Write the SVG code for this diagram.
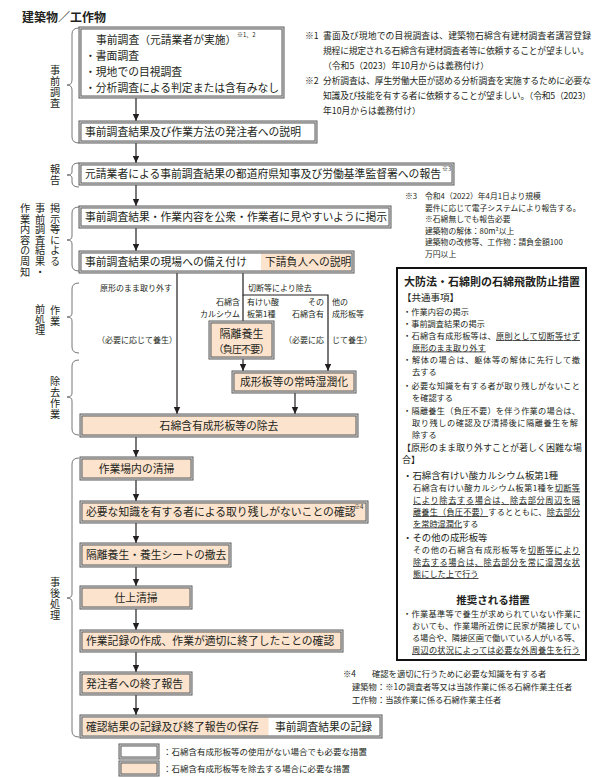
<svg xmlns="http://www.w3.org/2000/svg" width="596" height="778" viewBox="0 0 596 778">
<style>
text{font-family:"Noto Sans CJK JP","Noto Sans",sans-serif;fill:#231f20}
.bo{fill:none;stroke:#5a5a5a;stroke-width:3}
.bi{fill:none;stroke:#dcdcdc;stroke-width:1}
.w{fill:#fff}
.p{fill:#fce3cd}
.t{font-size:10.8px}
.s{font-size:8px}
.sup{font-size:6px}
.fn{font-size:8.8px}
.f3{font-size:7.8px}
.rb{font-size:8.2px}
.side{font-size:10.2px;writing-mode:vertical-rl;letter-spacing:0.4px}
.br{fill:none;stroke:#666;stroke-width:0.9}
.ln{fill:none;stroke:#231f20;stroke-width:1.2}
</style>
<defs>
<marker id="ah" markerWidth="8" markerHeight="8" refX="7" refY="4" orient="auto" markerUnits="userSpaceOnUse">
<path d="M0,0.8 L7,4 L0,7.2 Z" fill="#231f20"/>
</marker>
</defs>
<rect width="596" height="778" fill="#fff"/>

<text x="22" y="22" style="font-size:12px;font-weight:bold">建築物／工作物</text>

<!-- side labels -->
<g id="side-labels">
<text class="side" x="55" y="65" style="letter-spacing:0.8px">事前調査</text>
<text class="side" x="55" y="164">報告</text>
<text class="side" x="55" y="203">掲示等による</text>
<text class="side" x="40" y="203">事前調査結果・</text>
<text class="side" x="25" y="203">作業内容の周知</text>
<text class="side" x="55" y="305">作業</text>
<text class="side" x="40" y="304">前処理</text>
<text class="side" x="55" y="376" style="letter-spacing:0.8px">除去作業</text>
<text class="side" x="55" y="577" style="letter-spacing:0.8px">事後処理</text>
</g>

<g id="braces">
<path class="br" d="M79,28 Q72,28 72,34 L72,80 Q72,85 67,85 Q72,85 72,90 L72,137 Q72,143 79,143"/>
<path class="br" d="M79,163 Q72,163 72,168 L72,172 Q72,175 67,175 Q72,175 72,178 L72,182 Q72,187 79,187"/>
<path class="br" d="M79,207 Q72,207 72,213 L72,236 Q72,240 67,240 Q72,240 72,244 L72,265 Q72,271 79,271"/>
<path class="br" d="M79,283 Q72,283 72,289 L72,313 Q72,317 67,317 Q72,317 72,321 L72,347 Q72,353 79,353"/>
<path class="br" d="M79,360 Q72,360 72,366 L72,393 Q72,397 67,397 Q72,397 72,401 L72,429 Q72,435 79,435"/>
<path class="br" d="M79,458 Q72,458 72,464 L72,594 Q72,598 67,598 Q72,598 72,602 L72,731 Q72,737 79,737"/>
</g>

<!-- connectors -->
<g id="connectors">
<line class="ln" x1="136" y1="98" x2="136" y2="121" marker-end="url(#ah)"/>
<line class="ln" x1="136" y1="143" x2="136" y2="163" marker-end="url(#ah)"/>
<line class="ln" x1="136" y1="185" x2="136" y2="206" marker-end="url(#ah)"/>
<line class="ln" x1="136" y1="228" x2="136" y2="251" marker-end="url(#ah)"/>
<line class="ln" x1="177" y1="273" x2="177" y2="414" marker-end="url(#ah)"/>
<polyline class="ln" points="243,273 243,295 328,295 328,371" marker-end="url(#ah)"/>
<line class="ln" x1="243" y1="295" x2="243" y2="321"/>
<line class="ln" x1="243" y1="358" x2="243" y2="371" marker-end="url(#ah)"/>
<line class="ln" x1="295" y1="393" x2="295" y2="414" marker-end="url(#ah)"/>
<line class="ln" x1="136" y1="437" x2="136" y2="457" marker-end="url(#ah)"/>
<line class="ln" x1="136" y1="480" x2="136" y2="501" marker-end="url(#ah)"/>
<line class="ln" x1="136" y1="523" x2="136" y2="543" marker-end="url(#ah)"/>
<line class="ln" x1="136" y1="567" x2="136" y2="586" marker-end="url(#ah)"/>
<line class="ln" x1="136" y1="609" x2="136" y2="630" marker-end="url(#ah)"/>
<line class="ln" x1="136" y1="652" x2="136" y2="672" marker-end="url(#ah)"/>
<line class="ln" x1="136" y1="695" x2="136" y2="715" marker-end="url(#ah)"/>
<text class="s" x="172" y="291" text-anchor="end">原形のまま取り外す</text>
<text class="s" x="248" y="291">切断等により除去</text>
<text class="s" x="240" y="305" text-anchor="end">石綿含</text>
<text class="s" x="247" y="305">有けい酸</text>
<text class="s" x="240" y="317" text-anchor="end">カルシウム</text>
<text class="s" x="247" y="317">板第1種</text>
<text class="s" x="324" y="305" text-anchor="end">その</text>
<text class="s" x="332" y="305">他の</text>
<text class="s" x="324" y="317" text-anchor="end">石綿含有</text>
<text class="s" x="332" y="317">成形板等</text>
<text class="s" x="137" y="343" text-anchor="middle">（必要に応じて養生）</text>
<text class="s" x="324" y="343" text-anchor="end">（必要に応</text>
<text class="s" x="332" y="343">じて養生）</text>
</g>

<!-- nodes -->
<g id="n1">
<rect class="w" x="80" y="28" width="203" height="69"/><rect class="bo" x="80" y="28" width="203" height="69"/><rect class="bi" x="80" y="28" width="203" height="69"/>
<text class="t" x="96" y="44">事前調査（元請業者が実施）</text>
<text class="sup" x="237" y="37">※1、2</text>
<text class="t" x="85" y="60">・書面調査</text>
<text class="t" x="85" y="76">・現地での目視調査</text>
<text class="t" x="85" y="92">・分析調査による判定または含有みなし</text>
</g>
<g id="n2">
<rect class="w" x="80" y="122" width="236" height="20"/><rect class="bo" x="80" y="122" width="236" height="20"/><rect class="bi" x="80" y="122" width="236" height="20"/>
<text class="t" x="85" y="136">事前調査結果及び作業方法の発注者への説明</text>
</g>
<g id="n3">
<rect class="w" x="80" y="164" width="373" height="20"/><rect class="bo" x="80" y="164" width="373" height="20"/><rect class="bi" x="80" y="164" width="373" height="20"/>
<text class="t" x="85" y="178">元請業者による事前調査結果の都道府県知事及び労働基準監督署への報告</text>
<text class="sup" x="442" y="171">※3</text>
</g>
<g id="n4">
<rect class="w" x="80" y="207" width="310" height="20"/><rect class="bo" x="80" y="207" width="310" height="20"/><rect class="bi" x="80" y="207" width="310" height="20"/>
<text class="t" x="85" y="221">事前調査結果・作業内容を公衆・作業者に見やすいように掲示</text>
</g>
<g id="n5">
<rect class="w" x="80" y="252" width="273" height="20"/>
<rect class="p" x="261" y="253.5" width="90.5" height="17"/>
<rect class="bo" x="80" y="252" width="273" height="20"/><rect class="bi" x="80" y="252" width="273" height="20"/>
<text class="t" x="85" y="266">事前調査結果の現場への備え付け</text>
<text class="t" x="265" y="266">下請負人への説明</text>
</g>
<g id="n6">
<rect class="p" x="210" y="322" width="63" height="36"/><rect class="bo" x="210" y="322" width="63" height="36"/><rect class="bi" x="210" y="322" width="63" height="36"/>
<text x="241.5" y="338" text-anchor="middle" style="font-size:11px">隔離養生</text>
<text x="241.5" y="353" text-anchor="middle" style="font-size:10px" textLength="56">（負圧不要）</text>
</g>
<g id="n7">
<rect class="p" x="233" y="372" width="122" height="20"/><rect class="bo" x="233" y="372" width="122" height="20"/><rect class="bi" x="233" y="372" width="122" height="20"/>
<text class="t" x="294" y="386" text-anchor="middle">成形板等の常時湿潤化</text>
</g>
<g id="n8">
<rect class="p" x="81" y="415" width="276" height="21"/><rect class="bo" x="81" y="415" width="276" height="21"/><rect class="bi" x="81" y="415" width="276" height="21"/>
<text class="t" x="219" y="429.5" text-anchor="middle">石綿含有成形板等の除去</text>
</g>
<g id="n9">
<rect class="p" x="81" y="458" width="111" height="21"/><rect class="bo" x="81" y="458" width="111" height="21"/><rect class="bi" x="81" y="458" width="111" height="21"/>
<text class="t" x="136.5" y="472.5" text-anchor="middle">作業場内の清掃</text>
</g>
<g id="n10">
<rect class="p" x="81" y="502" width="286" height="20"/><rect class="bo" x="81" y="502" width="286" height="20"/><rect class="bi" x="81" y="502" width="286" height="20"/>
<text class="t" x="86" y="516">必要な知識を有する者による取り残しがないことの確認</text>
<text class="sup" x="354" y="509">※4</text>
</g>
<g id="n11">
<rect class="p" x="81" y="544" width="149" height="22"/><rect class="bo" x="81" y="544" width="149" height="22"/><rect class="bi" x="81" y="544" width="149" height="22"/>
<text class="t" x="86" y="559">隔離養生・養生シートの撤去</text>
</g>
<g id="n12">
<rect class="p" x="81" y="587" width="110" height="21"/><rect class="bo" x="81" y="587" width="110" height="21"/><rect class="bi" x="81" y="587" width="110" height="21"/>
<text class="t" x="136" y="601.5" text-anchor="middle">仕上清掃</text>
</g>
<g id="n13">
<rect class="p" x="81" y="631" width="261" height="20"/><rect class="bo" x="81" y="631" width="261" height="20"/><rect class="bi" x="81" y="631" width="261" height="20"/>
<text class="t" x="86" y="645">作業記録の作成、作業が適切に終了したことの確認</text>
</g>
<g id="n14">
<rect class="p" x="81" y="673" width="110" height="21"/><rect class="bo" x="81" y="673" width="110" height="21"/><rect class="bi" x="81" y="673" width="110" height="21"/>
<text class="t" x="86" y="687.5">発注者への終了報告</text>
</g>
<g id="n15">
<rect class="w" x="81" y="716" width="300" height="21"/>
<rect class="p" x="82.5" y="717.5" width="186" height="18"/>
<rect class="bo" x="81" y="716" width="300" height="21"/><rect class="bi" x="81" y="716" width="300" height="21"/>
<text class="t" x="86" y="730.5">確認結果の記録及び終了報告の保存</text>
<text class="t" x="275" y="730.5">事前調査結果の記録</text>
</g>

<!-- legend -->
<g id="legend">
<rect class="w" x="120" y="745" width="38" height="13"/><rect class="bo" x="120" y="745" width="38" height="13"/><rect class="bi" x="120" y="745" width="38" height="13"/>
<text x="163" y="755" style="font-size:8.5px">：石綿含有成形板等の使用がない場合でも必要な措置</text>
<rect class="p" x="120" y="762" width="38" height="13"/><rect class="bo" x="120" y="762" width="38" height="13"/><rect class="bi" x="120" y="762" width="38" height="13"/>
<text x="163" y="772" style="font-size:8.5px">：石綿含有成形板等を除去する場合に必要な措置</text>
</g>

<!-- footnotes -->
<g id="notes12">
<text class="fn" x="305" y="39">※1</text>
<text class="fn" x="323" y="39" textLength="268">書面及び現地での目視調査は、建築物石綿含有建材調査者講習登録</text>
<text class="fn" x="323" y="54" textLength="266">規程に規定される石綿含有建材調査者等に依頼することが望ましい。</text>
<text class="fn" x="323" y="69">（令和5（2023）年10月からは義務付け）</text>
<text class="fn" x="305" y="84">※2</text>
<text class="fn" x="323" y="84" textLength="268">分析調査は、厚生労働大臣が認める分析調査を実施するために必要な</text>
<text class="fn" x="323" y="99" textLength="268">知識及び技能を有する者に依頼することが望ましい。（令和5（2023）</text>
<text class="fn" x="323" y="114">年10月からは義務付け）</text>
</g>
<g id="note3">
<text class="f3" x="405" y="199">※3</text>
<text class="f3" x="425" y="199">令和4（2022）年4月1日より規模</text>
<text class="f3" x="425" y="210.5">要件に応じて電子システムにより報告する。</text>
<text class="f3" x="425" y="222">※石綿無しでも報告必要</text>
<text class="f3" x="425" y="233.5">建築物の解体：80m²以上</text>
<text class="f3" x="425" y="245">建築物の改修等、工作物：請負金額100</text>
<text class="f3" x="425" y="256.5">万円以上</text>
</g>
<g id="note4">
<text x="343" y="677" style="font-size:8.3px">※4</text>
<text x="372" y="677" style="font-size:8.3px">確認を適切に行うために必要な知識を有する者</text>
<text x="352" y="690" style="font-size:8.3px">建築物：※1の調査者等又は当該作業に係る石綿作業主任者</text>
<text x="352" y="703" style="font-size:8.3px">工作物：当該作業に係る石綿作業主任者</text>
</g>

<!-- measures box -->
<g id="measures">
<rect x="397" y="268" width="189" height="392" fill="#fff" stroke="#111" stroke-width="2"/>
<text x="404" y="286" style="font-size:11px;font-weight:bold">大防法・石綿則の石綿飛散防止措置</text>
<text x="402" y="301" style="font-size:9.5px">【共通事項】</text>
<text class="rb" x="403" y="315" textLength="66">・作業内容の掲示</text>
<text class="rb" x="403" y="326.5">・事前調査結果の掲示</text>
<text class="rb" x="403" y="339" textLength="177">・石綿含有成形板等は、<tspan text-decoration="underline">原則として切断等せず</tspan></text>
<text class="rb" x="412" y="350.5" text-decoration="underline">原形のまま取り外す</text>
<text class="rb" x="403" y="363" textLength="177">・解体の場合は、躯体等の解体に先行して撤</text>
<text class="rb" x="412" y="374.5">去する</text>
<text class="rb" x="403" y="389" textLength="177">・必要な知識を有する者が取り残しがないこと</text>
<text class="rb" x="412" y="400.5">を確認する</text>
<text class="rb" x="403" y="414" textLength="177">・隔離養生（負圧不要）を伴う作業の場合は、</text>
<text class="rb" x="412" y="426" textLength="166">取り残しの確認及び清掃後に隔離養生を解</text>
<text class="rb" x="412" y="437.5">除する</text>
<text x="402" y="450.5" style="font-size:9px">【原形のまま取り外すことが著しく困難な場</text>
<text x="402" y="463" style="font-size:9px">合】</text>
<text x="403" y="478.5" style="font-size:9.4px">・石綿含有けい酸カルシウム板第1種</text>
<text class="rb" x="413" y="490.5" textLength="167">石綿含有けい酸カルシウム板第1種を<tspan text-decoration="underline">切断等</tspan></text>
<text class="rb" x="413" y="503" textLength="167" text-decoration="underline">により除去する場合は、除去部分周辺を隔</text>
<text class="rb" x="413" y="515" textLength="167"><tspan text-decoration="underline">離養生（負圧不要）</tspan>するとともに、<tspan text-decoration="underline">除去部分</tspan></text>
<text class="rb" x="413" y="526.5"><tspan text-decoration="underline">を常時湿潤化</tspan>する</text>
<text x="403" y="540.5" style="font-size:9.4px">・その他の成形板等</text>
<text class="rb" x="413" y="553" textLength="167">その他の石綿含有成形板等を<tspan text-decoration="underline">切断等により</tspan></text>
<text class="rb" x="413" y="565" textLength="167" text-decoration="underline">除去する場合は、除去部分を常に湿潤な状</text>
<text class="rb" x="413" y="577" text-decoration="underline">態にした上で行う</text>
<text x="493" y="604" text-anchor="middle" style="font-size:10.5px;font-weight:bold">推奨される措置</text>
<text class="rb" x="403" y="617" textLength="178">・作業基準等で養生が求められていない作業に</text>
<text class="rb" x="412" y="629" textLength="168">おいても、作業場所近傍に民家が隣接してい</text>
<text class="rb" x="412" y="641" textLength="168">る場合や、隣接区画で働いている人がいる等、</text>
<text class="rb" x="412" y="653" textLength="168" text-decoration="underline">周辺の状況によっては必要な外周養生を行う</text>
</g>
</svg>
